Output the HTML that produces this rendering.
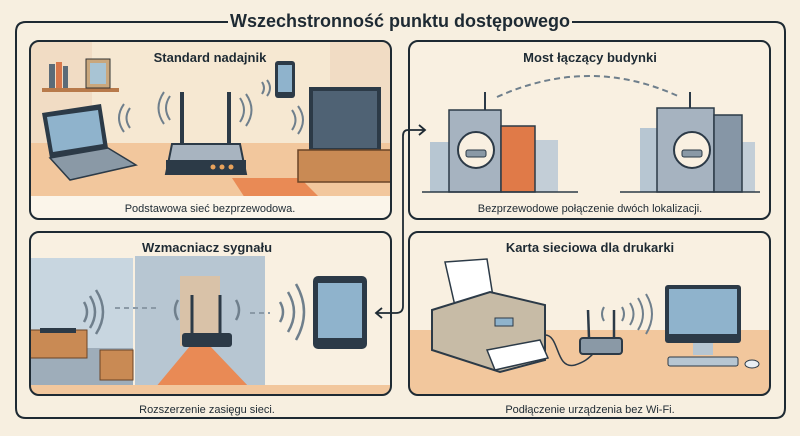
<!DOCTYPE html>
<html><head><meta charset="utf-8"><style>
html,body{margin:0;padding:0;background:#f7efe0;}
svg{display:block;font-family:"Liberation Sans",sans-serif;}
</style></head><body>
<svg width="800" height="436" viewBox="0 0 800 436" xmlns="http://www.w3.org/2000/svg">
<rect width="800" height="436" fill="#f7efe0"/>
<path d="M228 22 H26 Q16 22 16 32 V408 Q16 418 26 418 H775 Q785 418 785 408 V32 Q785 22 775 22 H572" fill="none" stroke="#1e2a33" stroke-width="2"/>
<text x="400" y="27" text-anchor="middle" font-size="18" font-weight="bold" fill="#1e2a33">Wszechstronność punktu dostępowego</text>

<g>
<clipPath id="c1"><rect x="30" y="41" width="361" height="178" rx="9"/></clipPath>
<g clip-path="url(#c1)">
<rect x="30" y="41" width="361" height="178" fill="#f6e8d2"/>
<rect x="30" y="41" width="62" height="105" fill="#f1dcc4"/>
<rect x="330" y="41" width="61" height="105" fill="#f1dcc4"/>
<rect x="30" y="143" width="361" height="55" fill="#f2c79d"/>
<polygon points="232,178 300,178 320,198 245,198" fill="#e98a55"/>
<rect x="30" y="196" width="361" height="23" fill="#fbf5ea"/>
<rect x="42" y="88" width="77" height="4" fill="#b87a4b"/>
<rect x="49" y="64" width="6" height="24" fill="#5c6b78"/><rect x="56" y="62" width="6" height="26" fill="#d8774a"/><rect x="63" y="66" width="5" height="22" fill="#5c6b78"/>
<rect x="86" y="59" width="24" height="29" fill="#c9a77d" stroke="#333" stroke-width="1"/><rect x="90" y="63" width="16" height="21" fill="#a8c4d4"/>
<polygon points="42,113 101,104 108,148 50,158" fill="#2c3a47"/>
<polygon points="47,117 98,110 103,144 53,152" fill="#8fb3cc"/>
<polygon points="50,158 108,148 136,165 70,180" fill="#8a99a6" stroke="#2c3a47" stroke-width="1.5"/>
<rect x="180" y="92" width="4" height="52" fill="#2c3a47"/><rect x="227" y="92" width="4" height="52" fill="#2c3a47"/>
<path d="M172 144 H240 L246 174 H166 Z" fill="#a8b4c0" stroke="#2c3a47" stroke-width="2"/>
<rect x="166" y="160" width="80" height="14" fill="#2c3a47"/>
<circle cx="213" cy="167" r="2.5" fill="#e9a35c"/><circle cx="222" cy="167" r="2.5" fill="#e9a35c"/><circle cx="231" cy="167" r="2.5" fill="#e9a35c"/>
<g fill="none" stroke="#6f7f8c" stroke-width="2">
<path d="M170 96 q-8 12 0 24"/><path d="M164 92 q-11 16 0 32"/><path d="M130 108 q-7 10 0 20"/><path d="M124 104 q-10 14 0 28"/>
<path d="M240 98 q8 12 0 24"/><path d="M246 94 q11 16 0 32"/><path d="M292 110 q7 10 0 20"/><path d="M298 106 q10 14 0 28"/>
<path d="M262 82 q4 6 0 12"/><path d="M267 80 q6 8 0 16"/>
</g>
<rect x="275" y="61" width="20" height="37" rx="3" fill="#2c3a47"/><rect x="278" y="65" width="14" height="27" fill="#8fb3cc"/>
<rect x="309" y="87" width="72" height="66" fill="#2c3a47"/><rect x="313" y="91" width="64" height="57" fill="#4f6274"/>
<rect x="298" y="150" width="93" height="32" fill="#c98a54" stroke="#6b4426" stroke-width="1.5"/>
</g>
<rect x="30" y="41" width="361" height="178" rx="9" fill="none" stroke="#1e2a33" stroke-width="2"/>
<text x="210" y="62" text-anchor="middle" font-size="13" font-weight="bold" fill="#1e2a33">Standard nadajnik</text>
<text x="210" y="212" text-anchor="middle" font-size="11" fill="#1e2a33">Podstawowa sieć bezprzewodowa.</text>
</g>

<g>
<rect x="409" y="41" width="361" height="178" rx="9" fill="#f9f0e1" stroke="#1e2a33" stroke-width="2"/>
<text x="590" y="62" text-anchor="middle" font-size="13" font-weight="bold" fill="#1e2a33">Most łączący budynki</text>
<path d="M497 97 Q590 55 680 97" fill="none" stroke="#6f7f8c" stroke-width="2" stroke-dasharray="6 4"/>
<rect x="430" y="142" width="30" height="50" fill="#b7c6d2"/><rect x="530" y="140" width="28" height="52" fill="#c3ced7"/>
<rect x="640" y="128" width="32" height="64" fill="#b7c6d2"/><rect x="735" y="142" width="20" height="50" fill="#c3ced7"/>
<rect x="449" y="110" width="52" height="82" fill="#a6b3c0" stroke="#2c3a47" stroke-width="1.5"/>
<rect x="501" y="126" width="34" height="66" fill="#e07a48" stroke="#2c3a47" stroke-width="1.5"/>
<rect x="657" y="108" width="57" height="84" fill="#a6b3c0" stroke="#2c3a47" stroke-width="1.5"/>
<rect x="714" y="115" width="28" height="77" fill="#8696a6" stroke="#2c3a47" stroke-width="1.5"/>
<line x1="485" y1="110" x2="485" y2="92" stroke="#2c3a47" stroke-width="2"/><line x1="690" y1="108" x2="690" y2="92" stroke="#2c3a47" stroke-width="2"/>
<circle cx="476" cy="150" r="18" fill="#f9f0e1" stroke="#2c3a47" stroke-width="2"/>
<circle cx="692" cy="150" r="18" fill="#f9f0e1" stroke="#2c3a47" stroke-width="2"/>
<rect x="466" y="150" width="20" height="7" rx="2" fill="#8a99a6" stroke="#2c3a47"/><rect x="682" y="150" width="20" height="7" rx="2" fill="#8a99a6" stroke="#2c3a47"/>
<line x1="422" y1="192" x2="578" y2="192" stroke="#2c3a47" stroke-width="1.5"/><line x1="620" y1="192" x2="760" y2="192" stroke="#2c3a47" stroke-width="1.5"/>
<text x="590" y="212" text-anchor="middle" font-size="11" fill="#1e2a33">Bezprzewodowe połączenie dwóch lokalizacji.</text>
</g>

<g>
<clipPath id="c3"><rect x="30" y="232" width="361" height="163" rx="9"/></clipPath>
<g clip-path="url(#c3)">
<rect x="30" y="232" width="361" height="163" fill="#f9f0e1"/>
<rect x="30" y="258" width="103" height="130" fill="#c8d6e0"/>
<rect x="30" y="348" width="103" height="40" fill="#9eadba"/>
<rect x="135" y="256" width="130" height="132" fill="#b7c6d2"/>
<rect x="180" y="276" width="40" height="70" fill="#d9c2a8"/>
<polygon points="190,346 210,346 250,388 155,388" fill="#e98a55"/>
<rect x="30" y="330" width="57" height="28" fill="#c98a54" stroke="#6b4426"/>
<rect x="40" y="328" width="36" height="5" fill="#2c3a47"/>
<rect x="100" y="350" width="33" height="30" fill="#c98a54" stroke="#6b4426"/>
<rect x="182" y="333" width="50" height="14" rx="3" fill="#2c3a47"/>
<line x1="192" y1="333" x2="192" y2="295" stroke="#2c3a47" stroke-width="3"/><line x1="220" y1="333" x2="220" y2="295" stroke="#2c3a47" stroke-width="3"/>
<rect x="30" y="385" width="361" height="10" fill="#f2c79d"/>
</g>
<g fill="none" stroke="#6f7f8c" stroke-width="2.5">
<path d="M84 302 q6 10 0 20"/><path d="M90 296 q10 16 0 32"/><path d="M96 290 q14 22 0 44"/>
<path d="M280 302 q6 10 0 20"/><path d="M288 292 q12 20 0 40"/><path d="M296 284 q16 28 0 56"/>
<path d="M178 300 q-6 10 0 20"/><path d="M236 300 q6 10 0 20"/>
</g>
<line x1="115" y1="308" x2="160" y2="308" stroke="#8a99a6" stroke-width="2" stroke-dasharray="5 4"/>
<line x1="250" y1="313" x2="270" y2="313" stroke="#8a99a6" stroke-width="2" stroke-dasharray="5 4"/>
<rect x="313" y="276" width="54" height="73" rx="5" fill="#2c3a47"/><rect x="318" y="283" width="44" height="55" fill="#8fb3cc"/>
<rect x="30" y="232" width="361" height="163" rx="9" fill="none" stroke="#1e2a33" stroke-width="2"/>
<text x="207" y="252" text-anchor="middle" font-size="13" font-weight="bold" fill="#1e2a33">Wzmacniacz sygnału</text>
<text x="207" y="413" text-anchor="middle" font-size="11" fill="#1e2a33">Rozszerzenie zasięgu sieci.</text>
</g>

<g>
<clipPath id="c4"><rect x="409" y="232" width="361" height="163" rx="9"/></clipPath>
<g clip-path="url(#c4)">
<rect x="409" y="232" width="361" height="163" fill="#f9f0e1"/>
<rect x="409" y="330" width="361" height="65" fill="#f2c79d"/>
</g>
<rect x="409" y="232" width="361" height="163" rx="9" fill="none" stroke="#1e2a33" stroke-width="2"/>
<polygon points="445,262 487,259 494,303 455,306" fill="#fff" stroke="#2c3a47" stroke-width="1.5"/>
<path d="M432 310 L490 292 L545 305 L545 360 L500 372 L432 350 Z" fill="#c7bba6" stroke="#2c3a47" stroke-width="2"/>
<polygon points="487,350 540,340 548,358 495,370" fill="#fff" stroke="#2c3a47" stroke-width="1.5"/>
<rect x="495" y="318" width="18" height="8" fill="#8fb3cc" stroke="#2c3a47"/>
<path d="M545 335 C560 335 555 370 575 365 C590 360 590 355 596 352" fill="none" stroke="#2c3a47" stroke-width="1.5"/>
<rect x="580" y="338" width="42" height="16" rx="3" fill="#8a99a6" stroke="#2c3a47" stroke-width="2"/>
<line x1="589" y1="338" x2="588" y2="310" stroke="#2c3a47" stroke-width="2.5"/><line x1="614" y1="338" x2="614" y2="310" stroke="#2c3a47" stroke-width="2.5"/>
<g fill="none" stroke="#6f7f8c" stroke-width="2"><path d="M604 307 q-4 7 0 14"/><path d="M622 307 q4 7 0 14"/><path d="M630 303 q7 11 0 22"/><path d="M638 298 q10 16 0 32"/><path d="M646 294 q12 20 0 40"/></g>
<rect x="665" y="285" width="76" height="58" rx="3" fill="#2c3a47"/><rect x="669" y="289" width="68" height="45" fill="#8fb3cc"/>
<rect x="693" y="343" width="20" height="12" fill="#b7c6d2"/>
<rect x="668" y="357" width="70" height="9" rx="2" fill="#b7c6d2" stroke="#2c3a47"/>
<ellipse cx="752" cy="364" rx="7" ry="4" fill="#e9eef2" stroke="#2c3a47"/>
<text x="590" y="252" text-anchor="middle" font-size="13" font-weight="bold" fill="#1e2a33">Karta sieciowa dla drukarki</text>
<text x="590" y="413" text-anchor="middle" font-size="11" fill="#1e2a33">Podłączenie urządzenia bez Wi-Fi.</text>
</g>

<path d="M424 130 H408 Q403 130 403 136 V306 Q403 313 396 313 H376" fill="none" stroke="#1e2a33" stroke-width="1.8"/>
<path d="M419 125 L425 130 L419 135" fill="none" stroke="#1e2a33" stroke-width="1.8"/>
<path d="M382 308 L376 313 L382 318" fill="none" stroke="#1e2a33" stroke-width="1.8"/>
</svg>
</body></html>
